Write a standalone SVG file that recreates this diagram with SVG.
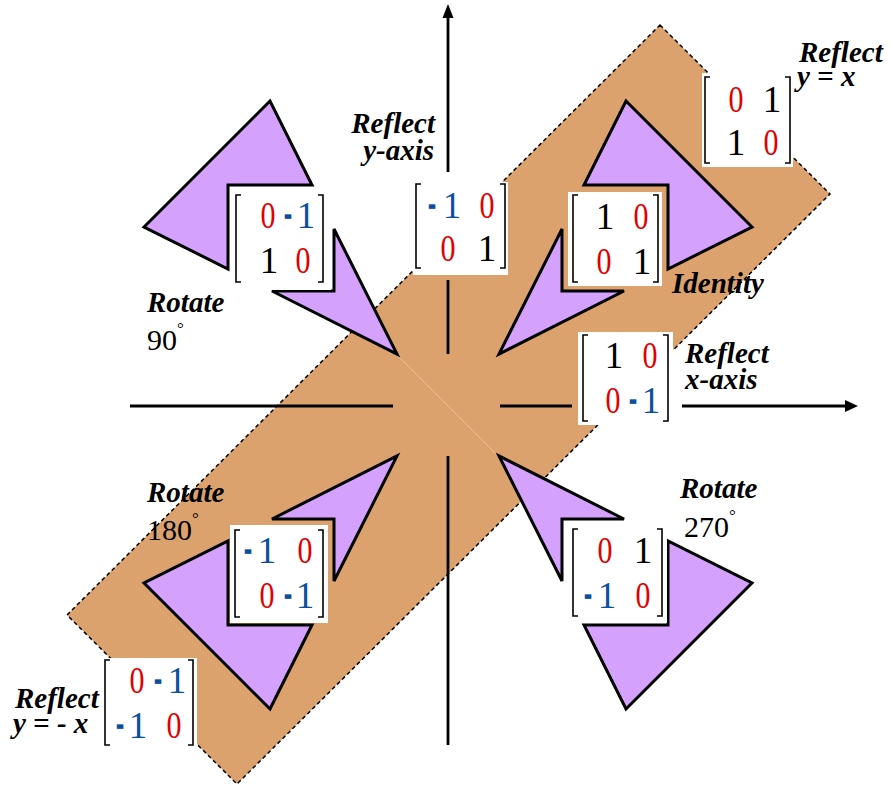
<svg xmlns="http://www.w3.org/2000/svg" xmlns:xlink="http://www.w3.org/1999/xlink" width="890" height="785" viewBox="0 0 890 785">
<style>
.band{fill:#dca26e;stroke:#000;stroke-width:1.5;stroke-dasharray:4 3}
.shape{fill:#d4a1fc;stroke:#000;stroke-width:3;stroke-linejoin:miter}
.box{fill:#fff}
.br{fill:none;stroke:#000;stroke-width:1.6}
.ax{stroke:#000;stroke-width:2.8;fill:none}
.mx{font-family:"Liberation Serif","Times New Roman",serif;font-size:37px;text-anchor:middle}
.k{fill:#000}
.r{fill:#e00000}
.b{fill:#0b4f9e}
.mi{font-size:12px;font-weight:bold;stroke:#0b4f9e;stroke-width:3.4}
.lbl{font-family:"Liberation Serif","Times New Roman",serif;font-size:29px;font-weight:bold;font-style:italic;fill:#000}
.num{font-family:"Liberation Serif","Times New Roman",serif;font-size:30px;fill:#000}
.dg{font-size:17px}
</style>
<defs>
<g id="arr">
<polygon points="-178,-304 -304,-178 -220,-136 -220,-220 -136,-220"/>
<polygon points="-114,-176 -51,-51 -176,-114 -114,-114"/>
</g>
</defs>
<rect width="890" height="785" fill="#fff"/>
<g id="band">
<polygon class="band" points="660,25 830,194 237,784 67,615"/>
<line x1="397" y1="355" x2="500" y2="458" stroke="#ecc497" stroke-width="1"/>
</g>
<g id="connectors">
<line class="ax" x1="448" y1="14" x2="448" y2="172"/>
<line class="ax" x1="448" y1="280" x2="448" y2="354"/>
<line class="ax" x1="448" y1="456" x2="448" y2="745"/>
<polygon points="448,4 442.5,18 453.5,18" fill="#000"/>
<line class="ax" x1="130" y1="406" x2="393" y2="406"/>
<line class="ax" x1="500" y1="406" x2="572" y2="406"/>
<line class="ax" x1="682" y1="406" x2="848" y2="406"/>
<polygon points="858,406 845,400 845,412" fill="#000"/>
</g>
<g id="shapes">
<use xlink:href="#arr" class="shape" transform="translate(448,405)"/>
<use xlink:href="#arr" class="shape" transform="translate(448,405) scale(-1,1)"/>
<use xlink:href="#arr" class="shape" transform="translate(448,405) scale(-1,-1)"/>
<use xlink:href="#arr" class="shape" transform="translate(448,405) scale(1,-1)"/>
</g>
<g id="reflect-yx">
<rect class="box" x="702" y="73" width="91" height="94"/>
<path class="br" d="M710,77 H705 V163 H710 M785,77 H790 V163 H785"/>
<text class="mx r" x="736" y="112" textLength="15" lengthAdjust="spacingAndGlyphs">0</text>
<text class="mx k" x="772" y="112">1</text>
<text class="mx k" x="736" y="155">1</text>
<text class="mx r" x="771" y="155" textLength="15" lengthAdjust="spacingAndGlyphs">0</text>
<text class="lbl" x="799" y="62">Reflect</text>
<text class="lbl" x="797" y="86">y = x</text>
</g>
<g id="reflect-yaxis">
<rect class="box" x="413" y="182" width="95" height="93"/>
<path class="br" d="M421,184 H416 V268 H421 M500,184 H505 V268 H500"/>
<text class="mx b"><tspan class="mi" x="432" y="210">-</tspan><tspan x="452" y="218">1</tspan></text>
<text class="mx r" x="487" y="218" textLength="15" lengthAdjust="spacingAndGlyphs">0</text>
<text class="mx r" x="448" y="261" textLength="15" lengthAdjust="spacingAndGlyphs">0</text>
<text class="mx k" x="487" y="261">1</text>
<text class="lbl" x="435" y="133" text-anchor="end">Reflect</text>
<text class="lbl" x="434" y="160" text-anchor="end">y-axis</text>
</g>
<g id="rotate90">
<rect class="box" x="231" y="188" width="100" height="102"/>
<path class="br" d="M241,195 H236 V282 H241 M318,195 H323 V282 H318"/>
<text class="mx r" x="268" y="228" textLength="15" lengthAdjust="spacingAndGlyphs">0</text>
<text class="mx b"><tspan class="mi" x="288" y="220">-</tspan><tspan x="306" y="228">1</tspan></text>
<text class="mx k" x="269" y="273">1</text>
<text class="mx r" x="303" y="273" textLength="15" lengthAdjust="spacingAndGlyphs">0</text>
<text class="lbl" x="147" y="312">Rotate</text>
<text class="num" x="147" y="350">90<tspan class="dg" dy="-16">°</tspan></text>
</g>
<g id="identity">
<rect class="box" x="568" y="192" width="94" height="94"/>
<path class="br" d="M578,195 H573 V282 H578 M653,195 H658 V282 H653"/>
<text class="mx k" x="605" y="229">1</text>
<text class="mx r" x="641" y="229" textLength="15" lengthAdjust="spacingAndGlyphs">0</text>
<text class="mx r" x="604" y="274" textLength="15" lengthAdjust="spacingAndGlyphs">0</text>
<text class="mx k" x="642" y="274">1</text>
<text class="lbl" x="672" y="293">Identity</text>
</g>
<g id="reflect-xaxis">
<rect class="box" x="578" y="332" width="95" height="93"/>
<path class="br" d="M588,335 H583 V421 H588 M663,335 H668 V421 H663"/>
<text class="mx k" x="614" y="368">1</text>
<text class="mx r" x="650" y="368" textLength="15" lengthAdjust="spacingAndGlyphs">0</text>
<text class="mx r" x="613" y="413" textLength="15" lengthAdjust="spacingAndGlyphs">0</text>
<text class="mx b"><tspan class="mi" x="633" y="405">-</tspan><tspan x="651" y="413">1</tspan></text>
<text class="lbl" x="685" y="363">Reflect</text>
<text class="lbl" x="685" y="389">x-axis</text>
</g>
<g id="rotate270">
<rect class="box" x="567" y="524" width="100" height="99"/>
<path class="br" d="M578,529 H573 V616 H578 M657,529 H662 V616 H657"/>
<text class="mx r" x="605" y="563" textLength="15" lengthAdjust="spacingAndGlyphs">0</text>
<text class="mx k" x="643" y="563">1</text>
<text class="mx b"><tspan class="mi" x="588" y="600">-</tspan><tspan x="607" y="608">1</tspan></text>
<text class="mx r" x="643" y="608" textLength="15" lengthAdjust="spacingAndGlyphs">0</text>
<text class="lbl" x="680" y="498">Rotate</text>
<text class="num" x="684" y="537">270<tspan class="dg" dy="-16">°</tspan></text>
</g>
<g id="rotate180">
<rect class="box" x="230" y="525" width="98" height="98"/>
<path class="br" d="M240,530 H235 V617 H240 M318,530 H323 V617 H318"/>
<text class="mx b"><tspan class="mi" x="248" y="555">-</tspan><tspan x="267" y="563">1</tspan></text>
<text class="mx r" x="305" y="563" textLength="15" lengthAdjust="spacingAndGlyphs">0</text>
<text class="mx r" x="267" y="608" textLength="15" lengthAdjust="spacingAndGlyphs">0</text>
<text class="mx b"><tspan class="mi" x="288" y="600">-</tspan><tspan x="305" y="608">1</tspan></text>
<text class="lbl" x="147" y="502">Rotate</text>
<text class="num" x="147" y="540">180<tspan class="dg" dy="-16">°</tspan></text>
</g>
<g id="reflect-ynx">
<rect class="box" x="102" y="658" width="95" height="89"/>
<path class="br" d="M110,660 H105 V745 H110 M188,660 H193 V745 H188"/>
<text class="mx r" x="137" y="693" textLength="15" lengthAdjust="spacingAndGlyphs">0</text>
<text class="mx b"><tspan class="mi" x="158" y="685">-</tspan><tspan x="177" y="693">1</tspan></text>
<text class="mx b"><tspan class="mi" x="120" y="730">-</tspan><tspan x="138" y="738">1</tspan></text>
<text class="mx r" x="174" y="738" textLength="15" lengthAdjust="spacingAndGlyphs">0</text>
<text class="lbl" x="15" y="708">Reflect</text>
<text class="lbl" x="13" y="733">y = - x</text>
</g>
</svg>
